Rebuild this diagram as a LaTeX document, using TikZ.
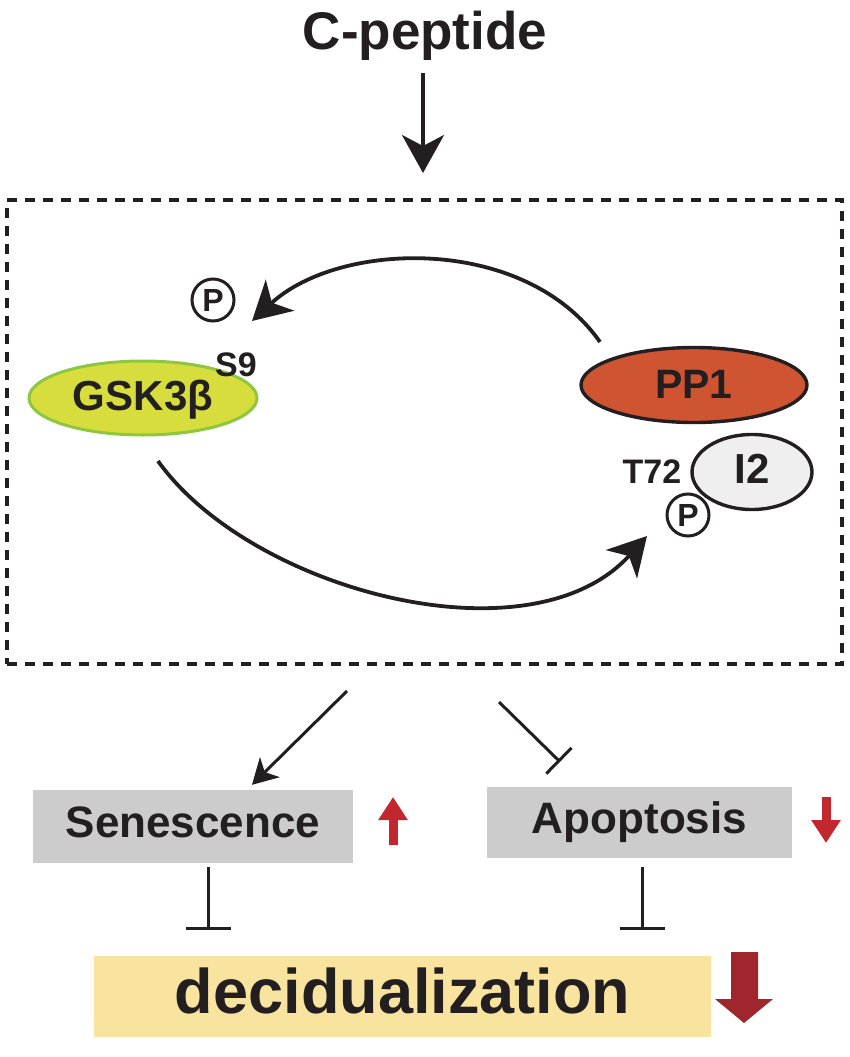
\documentclass[tikz,border=0pt]{standalone}
\usepackage{fontspec}
\setmainfont{Liberation Sans}
\usetikzlibrary{arrows.meta, shapes.geometric}

\definecolor{ink}{RGB}{35,31,32}
\definecolor{gskfill}{RGB}{214,221,60}
\definecolor{gskline}{RGB}{141,198,63}
\definecolor{ppfill}{RGB}{207,84,50}
\definecolor{itwofill}{RGB}{239,239,239}
\definecolor{fategray}{RGB}{204,204,204}
\definecolor{decfill}{RGB}{248,228,158}
\definecolor{upred}{RGB}{193,39,45}
\definecolor{bigred}{RGB}{158,38,44}

\newcommand{\fsz}[1]{\fontsize{#1}{#1}\selectfont}

\tikzset{
  lab/.style={inner sep=0pt, text=ink, font=\bfseries\fsz{#1}},
  prot/.style={ellipse, draw=ink, line width=3.4pt, inner sep=0pt, text=ink, font=\bfseries\fsz{41}},
  phos/.style={circle, draw=ink, fill=white, line width=3pt, minimum size=42pt, inner sep=0pt, text=ink, font=\bfseries\fsz{32}, text height=23pt, text depth=0pt},
  fate/.style={rectangle, fill=fategray, inner sep=0pt, text=ink, font=\bfseries\fsz{44}, text height=32pt, text depth=11pt},
  act/.style={draw=ink, line width=3.8pt, -{Stealth[length=38pt, width=42pt, inset=11pt]}},
  inh/.style={draw=ink, line width=3pt, -{Bar[width=#1]}},
  updown/.style={draw=upred, line width=9pt, -{Triangle[length=23pt, width=28pt]}},
}

\begin{document}
\begin{tikzpicture}[x=1pt, y=-1pt]
    \useasboundingbox (0,0) rectangle (850,1057);

    % draw C-peptide and the dashed frame
    \node[lab=53, anchor=base] (cpep) at (425,50) {C-peptide};
    \node[draw=ink, line width=4pt, dash pattern=on 10pt off 8pt, minimum width=835pt, minimum height=464pt, outer sep=0pt] (frame) at (424.5,432) {};
    \draw[act] ([xshift=-2pt,yshift=-12pt]cpep.south) -- ([xshift=-1.5pt,yshift=27pt]frame.north);

    % draw proteins
    \node[prot, fill=gskfill, draw=gskline, line width=3pt, minimum width=228pt, minimum height=74pt, text height=30pt, text depth=6pt, font=\bfseries\fsz{42}] (gsk) at (143,398) {GSK3β};
    \node[prot, fill=ppfill, minimum width=226pt, minimum height=75pt, text height=30pt, text depth=3pt] (pp1) at (694,385) {PP1};
    \node[prot, fill=itwofill, minimum width=120pt, minimum height=75pt, text height=30pt, text depth=8pt, font=\bfseries\fsz{42}] (itwo) at (752,472) {I2};

    % draw sites
    \node[lab=34, anchor=base] (snine) at (236,376) {S9};
    \node[lab=34, anchor=base] (tsev) at (652,483) {T72};
    \node[phos] (pgsk) at (213,300) {P};
    \node[phos] (pitwo) at (688,515) {P};

    % draw curved arrows
    \draw[act] ([shift={(-94,-43)}]pp1.center) .. controls (525,235) and (340,240) .. ([shift={(39,21)}]pgsk.center);
    \draw[act] ([shift={(15,63)}]gsk.center) .. controls (250,590) and (530,665) .. ([shift={(-41,21)}]pitwo.center);

    % draw cell fates
    \node[fate, minimum width=320pt, minimum height=73pt] (sen) at (193,826.5) {Senescence};
    \node[fate, minimum width=305pt, minimum height=71pt] (apo) at (639.5,822.5) {Apoptosis};
    \node[fate, fill=decfill, minimum width=617pt, minimum height=81pt, font=\bfseries\fsz{63}, text height=46pt, text depth=13pt] (dec) at (402.5,996.5) {decidualization};

    % draw links below the frame
    \draw[act, line width=3pt, -{Stealth[length=25pt, width=28pt, inset=7pt]}] ([shift={(-77.5,259)}]frame.center) -- ([xshift=59pt,yshift=5pt]sen.north);
    \draw[inh=36pt] ([shift={(74.5,270)}]frame.center) -- ([xshift=-79.5pt,yshift=25pt]apo.north);
    \draw[inh=45pt] ([xshift=15pt,yshift=-4pt]sen.south) -- ([xshift=-194.5pt,yshift=26pt]dec.north);
    \draw[inh=45pt] ([xshift=2.5pt,yshift=-9pt]apo.south) -- ([xshift=239.5pt,yshift=26pt]dec.north);

    % draw up and down arrows
    \draw[updown] (393,845) -- (393,797);
    \draw[updown] (826,797) -- (826,843);
    \fill[bigred] (731,952) -- (758,952) -- (758,999) -- (773,999) -- (744,1023) -- (715,999) -- (731,999) -- cycle;

\end{tikzpicture}
\end{document}
